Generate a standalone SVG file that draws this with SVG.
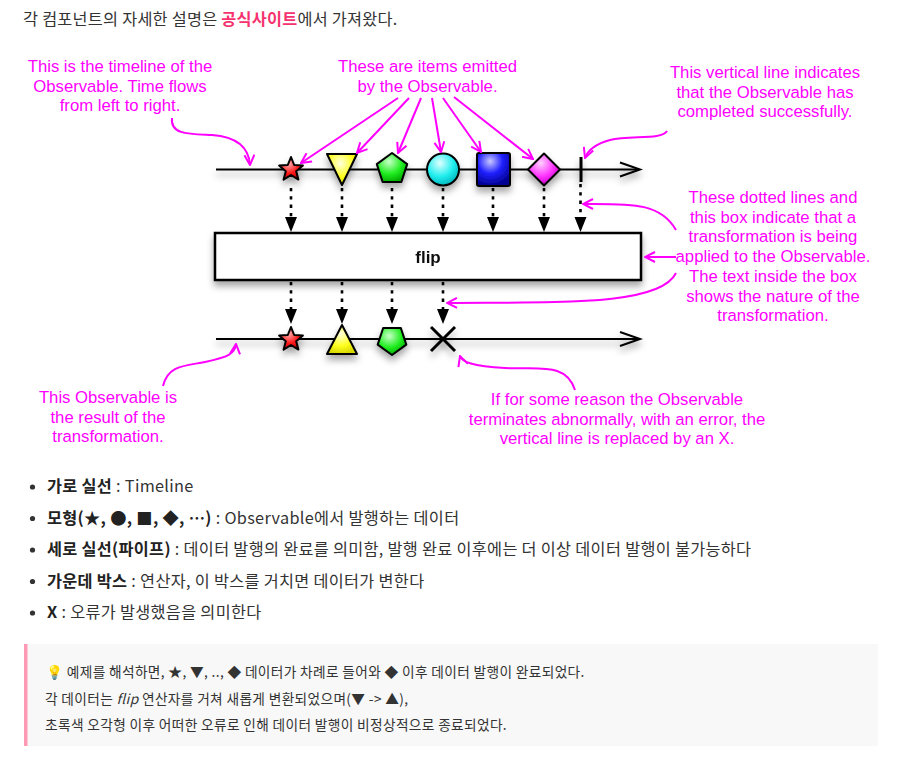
<svg xmlns="http://www.w3.org/2000/svg" width="897" height="760" viewBox="0 0 897 760">
<style>
.ko{font-family:"Noto Sans CJK KR","Noto Sans",sans-serif;fill:#333}
.hd{font-size:16.3px;letter-spacing:0.25px}
.li{font-size:16.3px;letter-spacing:0.3px}
.b{font-weight:bold;fill:#222}
.note{font-size:13.7px;letter-spacing:0.35px;fill:#333}
.mg{font-family:"Liberation Sans",Arial,sans-serif;font-size:16.7px;fill:#ff00ff;text-anchor:middle}
.tl{stroke:#000;stroke-width:2;fill:none}
.dot{stroke:#000;stroke-width:2.6;stroke-dasharray:3.3 5;fill:none}
.ah{fill:#000}
.shp{stroke:#000;stroke-width:2;stroke-linejoin:round}
.cv{stroke:#ff00ff;stroke-width:2;fill:none;marker-end:url(#mh)}
</style>
<defs>
<filter id="sh" x="-20%" y="-50%" width="140%" height="220%">
<feDropShadow dx="0" dy="5" stdDeviation="3.5" flood-color="#000" flood-opacity="0.35"/>
</filter>
<marker id="mh" viewBox="0 0 12 12" refX="11" refY="6" markerWidth="12" markerHeight="12" markerUnits="userSpaceOnUse" orient="auto">
<path d="M1,1 L11,6 L1,11" fill="none" stroke="#ff00ff" stroke-width="2"/>
</marker>
<radialGradient id="gR" cx="0.4" cy="0.3" r="0.7"><stop offset="0" stop-color="#ffb0b0"/><stop offset="0.6" stop-color="#ff1a1a"/><stop offset="1" stop-color="#c00000"/></radialGradient>
<radialGradient id="gY" cx="0.45" cy="0.3" r="0.7"><stop offset="0" stop-color="#ffffe0"/><stop offset="0.6" stop-color="#ffff20"/><stop offset="1" stop-color="#d8d800"/></radialGradient>
<radialGradient id="gG" cx="0.4" cy="0.3" r="0.7"><stop offset="0" stop-color="#c8ffc8"/><stop offset="0.6" stop-color="#22ee22"/><stop offset="1" stop-color="#00b000"/></radialGradient>
<radialGradient id="gC" cx="0.4" cy="0.3" r="0.7"><stop offset="0" stop-color="#e0ffff"/><stop offset="0.6" stop-color="#22eeee"/><stop offset="1" stop-color="#00b8c0"/></radialGradient>
<radialGradient id="gB" cx="0.4" cy="0.25" r="0.75"><stop offset="0" stop-color="#c8c8ff"/><stop offset="0.5" stop-color="#2020ff"/><stop offset="1" stop-color="#000090"/></radialGradient>
<radialGradient id="gM" cx="0.4" cy="0.3" r="0.7"><stop offset="0" stop-color="#ffd0ff"/><stop offset="0.6" stop-color="#ff33ff"/><stop offset="1" stop-color="#c000c0"/></radialGradient>
</defs>

<rect width="897" height="760" fill="#fff"/>

<g id="header">
<text class="ko hd" x="23" y="25">각 컴포넌트의 자세한 설명은 <tspan font-weight="bold" fill="#f5326e">공식사이트</tspan>에서 가져왔다.</text>
</g>

<g id="top-timeline" filter="url(#sh)">
<line class="tl" x1="216" y1="169.5" x2="639" y2="169.5"/>
<polyline class="tl" points="620,162.5 640,169.5 620,176.5"/>
</g>
<g id="top-items" filter="url(#sh)">
<polygon id="item-star" class="shp" fill="url(#gR)" points="291,157 294.2,165 302.9,165.6 296.2,171.2 298.4,179.6 291,175 283.6,179.6 285.8,171.2 279.1,165.6 287.8,165"/>
<polygon id="item-triangle" class="shp" fill="url(#gY)" points="327,154 357,154 342,185"/>
<polygon id="item-pentagon" class="shp" fill="url(#gG)" points="392,153 407.2,164.1 401.4,181.9 382.6,181.9 376.8,164.1"/>
<circle id="item-circle" class="shp" fill="url(#gC)" cx="443" cy="169.5" r="16"/>
<rect id="item-square" class="shp" fill="url(#gB)" x="477" y="153" width="33" height="33" rx="2"/>
<polygon id="item-diamond" class="shp" fill="url(#gM)" points="544,153.5 560,169.5 544,185.5 528,169.5"/>
<line id="complete" x1="581" y1="157" x2="581" y2="182" stroke="#000" stroke-width="3"/>
</g>

<g id="flip-box" filter="url(#sh)">
<rect x="215" y="233" width="426" height="47" fill="#fff" stroke="#000" stroke-width="2.5"/>
<text x="428" y="263" font-family="'Liberation Sans',Arial,sans-serif" font-weight="bold" font-size="17" text-anchor="middle" fill="#111">flip</text>
</g>

<g id="bottom-timeline" filter="url(#sh)">
<line class="tl" x1="216" y1="339" x2="639" y2="339"/>
<polyline class="tl" points="620,332 640,339 620,346"/>
</g>
<g id="bottom-items" filter="url(#sh)">
<polygon id="out-star" class="shp" fill="url(#gR)" transform="translate(0,170)" points="291,157 294.2,165 302.9,165.6 296.2,171.2 298.4,179.6 291,175 283.6,179.6 285.8,171.2 279.1,165.6 287.8,165"/>
<polygon id="out-triangle" class="shp" fill="url(#gY)" points="342,325 357,354 327,354"/>
<polygon id="out-pentagon" class="shp" fill="url(#gG)" points="392,355 377.7,344.6 383.2,327.9 400.8,327.9 406.3,344.6"/>
<g id="out-error" stroke="#000" stroke-width="3"><line x1="431" y1="327" x2="455" y2="351"/><line x1="455" y1="327" x2="431" y2="351"/></g>
</g>

<g id="connectors">
<g id="dotted-top">
<path class="dot" d="M291,188V217M342,188V217M392,188V217M443,188V217M493,188V217M544,188V217M580.5,184V217"/>
<path class="ah" d="M285,217h12l-6,15zM336,217h12l-6,15zM386,217h12l-6,15zM437,217h12l-6,15zM487,217h12l-6,15zM538,217h12l-6,15zM574.5,217h12l-6,15z"/>
</g>
<g id="dotted-bottom">
<path class="dot" d="M291,282V309M342,282V309M392,282V309M443,282V309"/>
<path class="ah" d="M285,309h12l-6,15zM336,309h12l-6,15zM386,309h12l-6,15zM437,309h12l-6,15z"/>
</g>
<g id="annotation-arrows">
<path class="cv" d="M172,118 C170,135 190,134 212,135 C238,137 249,148 250,165"/>
<path class="cv" d="M398,98 L301,163"/>
<path class="cv" d="M409,98 L357,153"/>
<path class="cv" d="M421,98 L398,153"/>
<path class="cv" d="M432,98 L441,152"/>
<path class="cv" d="M443,98 L481,152"/>
<path class="cv" d="M454,97 L533,159"/>
<path class="cv" d="M667,131 C662,140 630,135 610,140 C595,144 588,150 585,158"/>
<path class="cv" d="M676,230 C660,202 630,204 583,204"/>
<path class="cv" d="M676,257 L645,257"/>
<path class="cv" d="M676,273 C660,306 560,302 447,303"/>
<path class="cv" d="M163,386 C168,365 185,366 205,362 C228,357 235,354 236,344"/>
<path class="cv" d="M575,390 C566,362 540,370 505,368 C472,366 462,362 460,356"/>
</g>
</g>

<g id="annotations">
<text class="mg" x="120"><tspan x="120" y="72">This is the timeline of the</tspan><tspan x="120" y="91.5">Observable. Time flows</tspan><tspan x="120" y="111">from left to right.</tspan></text>
<text class="mg"><tspan x="427.5" y="72">These are items emitted</tspan><tspan x="427.5" y="91.5">by the Observable.</tspan></text>
<text class="mg"><tspan x="765" y="78">This vertical line indicates</tspan><tspan x="765" y="97.5">that the Observable has</tspan><tspan x="765" y="117">completed successfully.</tspan></text>
<text class="mg"><tspan x="773" y="203">These dotted lines and</tspan><tspan x="773" y="222.7">this box indicate that a</tspan><tspan x="773" y="242.4">transformation is being</tspan><tspan x="773" y="262.1">applied to the Observable.</tspan><tspan x="773" y="281.8">The text inside the box</tspan><tspan x="773" y="301.5">shows the nature of the</tspan><tspan x="773" y="321.2">transformation.</tspan></text>
<text class="mg"><tspan x="108" y="403">This Observable is</tspan><tspan x="108" y="422.7">the result of the</tspan><tspan x="108" y="442.4">transformation.</tspan></text>
<text class="mg"><tspan x="617" y="405">If for some reason the Observable</tspan><tspan x="617" y="424.7">terminates abnormally, with an error, the</tspan><tspan x="617" y="444.4">vertical line is replaced by an X.</tspan></text>
</g>

<g id="legend">
<g fill="#333"><circle cx="32.5" cy="487" r="2.6"/><circle cx="32.5" cy="518.5" r="2.6"/><circle cx="32.5" cy="550" r="2.6"/><circle cx="32.5" cy="581.5" r="2.6"/><circle cx="32.5" cy="613" r="2.6"/></g>
<text class="ko li" x="47" y="492"><tspan class="b">가로 실선</tspan> : Timeline</text>
<text class="ko li" x="47" y="523.5"><tspan class="b">모형(★, ●, ■, ◆, ⋯)</tspan> : Observable에서 발행하는 데이터</text>
<text class="ko li" x="47" y="555"><tspan class="b">세로 실선(파이프)</tspan> : 데이터 발행의 완료를 의미함, 발행 완료 이후에는 더 이상 데이터 발행이 불가능하다</text>
<text class="ko li" x="47" y="586.5"><tspan class="b">가운데 박스</tspan> : 연산자, 이 박스를 거치면 데이터가 변한다</text>
<text class="ko li" x="47" y="618"><tspan class="b">X</tspan> : 오류가 발생했음을 의미한다</text>
</g>

<g id="note">
<rect x="24" y="644" width="854" height="102" fill="#f8f8f8"/>
<rect x="24" y="644" width="3.5" height="102" fill="#ff9ab5"/>
<text class="ko note" x="46" y="677">💡 예제를 해석하면, ★, ▼, .., ◆ 데이터가 차례로 들어와 ◆ 이후 데이터 발행이 완료되었다.</text>
<text class="ko note" x="45" y="704">각 데이터는 <tspan font-style="italic">flip</tspan> 연산자를 거쳐 새롭게 변환되었으며(▼ -&gt; ▲),</text>
<text class="ko note" x="45" y="730">초록색 오각형 이후 어떠한 오류로 인해 데이터 발행이 비정상적으로 종료되었다.</text>
</g>
</svg>
